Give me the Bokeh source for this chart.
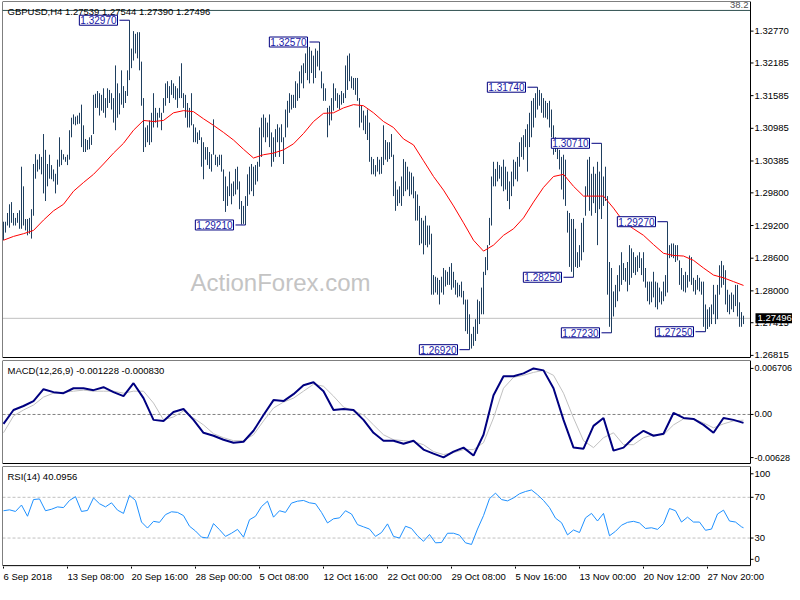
from bokeh.plotting import figure
from bokeh.layouts import column
from bokeh.models import Range1d, FixedTicker, Label, ColumnDataSource
from bokeh.core.properties import value
from bokeh.embed import file_html
from bokeh.resources import INLINE

# ---------------- data ----------------
symbol = "GBPUSD,H4"
last_open = 1.27539
last_close = 1.27496
fib_level = 1.3315
fib_text = "38.2"

highs = [
    1.2927, 1.2927, 1.2943, 1.2959, 1.2963, 1.2943, 1.2934, 1.2943, 1.2948, 1.3028,
    1.2992, 1.2932, 1.2932, 1.2934, 1.2950, 1.3033, 1.3051, 1.3041, 1.3051, 1.3046,
    1.3088, 1.3059, 1.3033, 1.3050, 1.3031, 1.3023, 1.3015, 1.3041, 1.3082, 1.3059,
    1.3051, 1.3046, 1.3050, 1.3095, 1.3118, 1.3124, 1.3120, 1.3122, 1.3127, 1.3142,
    1.3104, 1.3079, 1.3077, 1.3082, 1.3086, 1.3160, 1.3162, 1.3167, 1.3163, 1.3160,
    1.3172, 1.3154, 1.3172, 1.3169, 1.3163, 1.3154, 1.3214, 1.3181, 1.3163, 1.3205,
    1.3176, 1.3167, 1.3205, 1.3297, 1.3245, 1.3277, 1.3272, 1.3275, 1.3275, 1.3221,
    1.3154, 1.3100, 1.3104, 1.3113, 1.3127, 1.3163, 1.3136, 1.3127, 1.3136, 1.3127,
    1.3154, 1.3181, 1.3185, 1.3176, 1.3187, 1.3181, 1.3176, 1.3172, 1.3194, 1.3218,
    1.3163, 1.3160, 1.3145, 1.3136, 1.3163, 1.3106, 1.3100, 1.3091, 1.3095, 1.3082,
    1.3073, 1.3064, 1.3064, 1.3055, 1.3051, 1.3115, 1.3050, 1.3046, 1.3050, 1.3050,
    1.3023, 1.3010, 1.2992, 1.3019, 1.2997, 1.3001, 1.3024, 1.3028, 1.3001, 1.2965,
    1.2956, 1.2974, 1.3014, 1.3028, 1.3033, 1.3028, 1.3031, 1.3037, 1.3100, 1.3118,
    1.3124, 1.3118, 1.3109, 1.3124, 1.3091, 1.3082, 1.3097, 1.3106, 1.3100, 1.3106,
    1.3082, 1.3133, 1.3149, 1.3163, 1.3160, 1.3160, 1.3185, 1.3181, 1.3203, 1.3214,
    1.3218, 1.3236, 1.3250, 1.3248, 1.3241, 1.3232, 1.3245, 1.3241, 1.3257, 1.3203,
    1.3181, 1.3172, 1.3136, 1.3140, 1.3154, 1.3181, 1.3172, 1.3163, 1.3160, 1.3167,
    1.3163, 1.3214, 1.3232, 1.3236, 1.3194, 1.3191, 1.3191, 1.3191, 1.3154, 1.3140,
    1.3131, 1.3122, 1.3133, 1.3109, 1.3046, 1.3042, 1.3031, 1.3046, 1.3041, 1.3046,
    1.3104, 1.3077, 1.3073, 1.3073, 1.3088, 1.3050, 1.3001, 1.2986, 1.2992, 1.3010,
    1.3042, 1.3037, 1.3028, 1.3019, 1.3017, 1.3010, 1.2983, 1.2977, 1.2956, 1.2934,
    1.2929, 1.2938, 1.2920, 1.2920, 1.2905, 1.2829, 1.2826, 1.2824, 1.2820, 1.2826,
    1.2842, 1.2838, 1.2835, 1.2844, 1.2851, 1.2835, 1.2820, 1.2815, 1.2811, 1.2817,
    1.2800, 1.2784, 1.2784, 1.2757, 1.2721, 1.2734, 1.2748, 1.2784, 1.2781, 1.2806,
    1.2835, 1.2862, 1.2884, 1.2934, 1.3010, 1.3037, 1.3024, 1.3037, 1.3031, 1.3028,
    1.3041, 1.3028, 1.3019, 1.3001, 1.3019, 1.3041, 1.3037, 1.3046, 1.3073, 1.3082,
    1.3086, 1.3097, 1.3106, 1.3127, 1.3149, 1.3154, 1.3163, 1.3174, 1.3169, 1.3163,
    1.3154, 1.3149, 1.3145, 1.3149, 1.3133, 1.3104, 1.3082, 1.3070, 1.3059, 1.3046,
    1.3050, 1.3041, 1.2947, 1.2943, 1.2932, 1.2932, 1.2914, 1.2871, 1.2884, 1.2925,
    1.2934, 1.2992, 1.3041, 1.3046, 1.3015, 1.3028, 1.3015, 1.3037, 1.3019, 1.3071,
    1.3010, 1.3028, 1.2974, 1.2853, 1.2842, 1.2799, 1.2811, 1.2829, 1.2847, 1.2871,
    1.2851, 1.2842, 1.2853, 1.2884, 1.2878, 1.2871, 1.2862, 1.2865, 1.2871, 1.2860,
    1.2871, 1.2842, 1.2817, 1.2817, 1.2817, 1.2835, 1.2817, 1.2815, 1.2806, 1.2799,
    1.2817, 1.2829, 1.2927, 1.2884, 1.2887, 1.2887, 1.2884, 1.2884, 1.2856, 1.2842,
    1.2829, 1.2835, 1.2829, 1.2865, 1.2862, 1.2824, 1.2820, 1.2829, 1.2824, 1.2817,
    1.2817, 1.2775, 1.2766, 1.2770, 1.2775, 1.2811, 1.2793, 1.2811, 1.2847, 1.2855,
    1.2847, 1.2838, 1.2802, 1.2793, 1.2797, 1.2793, 1.2811, 1.2811, 1.2779, 1.2761,
    1.27544,
]

lows = [
    1.2893, 1.2907, 1.2920, 1.2916, 1.2925, 1.2920, 1.2920, 1.2925, 1.2914, 1.2914,
    1.2920, 1.2911, 1.2902, 1.2905, 1.2896, 1.2938, 1.3006, 1.3019, 1.3023, 1.3014,
    1.2979, 1.2965, 1.2992, 1.3006, 1.3005, 1.3001, 1.2979, 1.2995, 1.3028, 1.3031,
    1.3041, 1.3037, 1.3031, 1.3041, 1.3082, 1.3106, 1.3104, 1.3106, 1.3107, 1.3064,
    1.3055, 1.3055, 1.3059, 1.3060, 1.3068, 1.3088, 1.3136, 1.3136, 1.3122, 1.3131,
    1.3127, 1.3118, 1.3136, 1.3145, 1.3133, 1.3109, 1.3095, 1.3118, 1.3124, 1.3142,
    1.3136, 1.3145, 1.3158, 1.3187, 1.3209, 1.3223, 1.3236, 1.3227, 1.3205, 1.3140,
    1.3055, 1.3064, 1.3073, 1.3068, 1.3073, 1.3100, 1.3109, 1.3100, 1.3118, 1.3095,
    1.3127, 1.3140, 1.3154, 1.3145, 1.3160, 1.3154, 1.3151, 1.3136, 1.3154, 1.3154,
    1.3136, 1.3118, 1.3100, 1.3100, 1.3104, 1.3073, 1.3073, 1.3070, 1.3077, 1.3028,
    1.3005, 1.3041, 1.3031, 1.3024, 1.3019, 1.3050, 1.3031, 1.3028, 1.3031, 1.3019,
    1.2965, 1.2945, 1.2956, 1.2974, 1.2959, 1.2974, 1.2977, 1.2986, 1.2950, 1.2922,
    1.2923, 1.2921, 1.2956, 1.2977, 1.2983, 1.2974, 1.2995, 1.3001, 1.3028, 1.3046,
    1.3082, 1.3073, 1.3082, 1.3064, 1.3028, 1.3037, 1.3046, 1.3073, 1.3046, 1.3073,
    1.3033, 1.3082, 1.3100, 1.3127, 1.3133, 1.3136, 1.3136, 1.3149, 1.3154, 1.3181,
    1.3172, 1.3200, 1.3187, 1.3181, 1.3200, 1.3181, 1.3191, 1.3212, 1.3205, 1.3172,
    1.3149, 1.3149, 1.3082, 1.3104, 1.3113, 1.3131, 1.3149, 1.3136, 1.3133, 1.3142,
    1.3145, 1.3154, 1.3169, 1.3185, 1.3172, 1.3169, 1.3160, 1.3149, 1.3100, 1.3109,
    1.3095, 1.3088, 1.3077, 1.3037, 1.3014, 1.3014, 1.3010, 1.3019, 1.3014, 1.3015,
    1.3031, 1.3041, 1.3037, 1.3042, 1.3046, 1.2974, 1.2947, 1.2956, 1.2961, 1.2956,
    1.2974, 1.2983, 1.2986, 1.2974, 1.2977, 1.2970, 1.2929, 1.2929, 1.2884, 1.2887,
    1.2867, 1.2884, 1.2880, 1.2885, 1.2793, 1.2793, 1.2797, 1.2793, 1.2775, 1.2797,
    1.2793, 1.2808, 1.2811, 1.2811, 1.2802, 1.2806, 1.2793, 1.2788, 1.2790, 1.2788,
    1.2775, 1.2726, 1.2721, 1.2692, 1.2694, 1.2699, 1.2708, 1.2721, 1.2739, 1.2757,
    1.2757, 1.2829, 1.2838, 1.2884, 1.2920, 1.2992, 1.2992, 1.3001, 1.3006, 1.2992,
    1.2983, 1.2986, 1.2965, 1.2950, 1.2974, 1.2992, 1.3005, 1.3001, 1.3028, 1.3046,
    1.3041, 1.3064, 1.3019, 1.3064, 1.3082, 1.3100, 1.3118, 1.3133, 1.3140, 1.3127,
    1.3118, 1.3118, 1.3115, 1.3100, 1.3082, 1.3050, 1.3055, 1.3042, 1.3023, 1.2986,
    1.2968, 1.2956, 1.2907, 1.2844, 1.2835, 1.2825, 1.2844, 1.2842, 1.2844, 1.2856,
    1.2871, 1.2938, 1.2974, 1.2947, 1.2938, 1.2961, 1.2943, 1.2884, 1.2950, 1.2932,
    1.2956, 1.2965, 1.2793, 1.2734, 1.2723, 1.2753, 1.2770, 1.2781, 1.2799, 1.2811,
    1.2820, 1.2817, 1.2799, 1.2811, 1.2824, 1.2833, 1.2829, 1.2835, 1.2842, 1.2829,
    1.2817, 1.2806, 1.2781, 1.2775, 1.2779, 1.2788, 1.2770, 1.2766, 1.2779, 1.2775,
    1.2781, 1.2790, 1.2797, 1.2860, 1.2862, 1.2860, 1.2853, 1.2856, 1.2811, 1.2802,
    1.2799, 1.2797, 1.2806, 1.2817, 1.2811, 1.2799, 1.2793, 1.2802, 1.2799, 1.2793,
    1.2734, 1.2725, 1.2730, 1.2734, 1.2739, 1.2757, 1.2739, 1.2748, 1.2793, 1.2806,
    1.2811, 1.2775, 1.2761, 1.2757, 1.2766, 1.2761, 1.2772, 1.2753, 1.2734, 1.2734,
    1.27390,
]

# moving average (red), sampled every 5 bars
ma_step = 5
ma_values = [
    1.2893, 1.2900, 1.2905, 1.2911, 1.2930, 1.2947, 1.2959, 1.2983, 1.2999, 1.3014,
    1.3033, 1.3053, 1.3071, 1.3095, 1.3113, 1.3111, 1.3113, 1.3127, 1.3131, 1.3129,
    1.3116, 1.3104, 1.3091, 1.3077, 1.3060, 1.3044, 1.3050, 1.3053, 1.3059, 1.3070,
    1.3089, 1.3111, 1.3126, 1.3127, 1.3136, 1.3142, 1.3140, 1.3127, 1.3111, 1.3100,
    1.3079, 1.3068, 1.3039, 1.3010, 1.2985, 1.2956, 1.2925, 1.2893, 1.2873, 1.2884,
    1.2902, 1.2914, 1.2934, 1.2963, 1.2990, 1.3010, 1.3014, 1.2992, 1.2974, 1.2974,
    1.2974, 1.2952, 1.2927, 1.2914, 1.2902, 1.2885, 1.2869, 1.2865, 1.2864, 1.2856,
    1.2842, 1.2829, 1.2824, 1.2817, 1.2810,
]

# MACD(12,26,9), sampled every 5 bars
macd_step = 5
macd_main = [
    -0.00137, 0.00065, 0.00123, 0.00195, 0.00368, 0.00325, 0.00310, 0.00382, 0.00382, 0.00354,
    0.00397, 0.00325, 0.00267, 0.00455, 0.00238, -0.00079, -0.00094, 0.00036, 0.00079, -0.00079,
    -0.00267, -0.00310, -0.00368, -0.00411, -0.00397, -0.00238, -0.00007, 0.00209, 0.00195, 0.00296,
    0.00426, 0.00469, 0.00339, 0.00065, 0.00079, 0.00065, -0.00079, -0.00267, -0.00382, -0.00382,
    -0.00426, -0.00382, -0.00512, -0.00570, -0.00625, -0.00541, -0.00483, -0.00599, -0.00296, 0.00281,
    0.00556, 0.00556, 0.00599, 0.00670, 0.00642, 0.00382, -0.00079, -0.00483, -0.00498, -0.00166,
    -0.00051, -0.00527, -0.00483, -0.00339, -0.00238, -0.00310, -0.00281, 0.00022, -0.00051, -0.00065,
    -0.00152, -0.00267, -0.00051, -0.00079, -0.001228,
]
macd_signal = [
    -0.00267, -0.00022, 0.00065, 0.00137, 0.00253, 0.00310, 0.00325, 0.00339, 0.00354, 0.00339,
    0.00339, 0.00339, 0.00310, 0.00339, 0.00339, 0.00166, -0.00079, -0.00036, 0.00051, -0.00051,
    -0.00152, -0.00281, -0.00339, -0.00382, -0.00382, -0.00296, -0.00094, 0.00094, 0.00180, 0.00238,
    0.00339, 0.00440, 0.00411, 0.00267, 0.00108, 0.00051, -0.00007, -0.00152, -0.00296, -0.00368,
    -0.00382, -0.00397, -0.00440, -0.00541, -0.00584, -0.00556, -0.00512, -0.00512, -0.00411, -0.00051,
    0.00382, 0.00541, 0.00570, 0.00613, 0.00642, 0.00570, 0.00310, -0.00051, -0.00382, -0.00483,
    -0.00339, -0.00267, -0.00440, -0.00440, -0.00339, -0.00296, -0.00296, -0.00152, -0.00065, -0.00065,
    -0.00123, -0.00195, -0.00137, -0.00094, -0.000830,
]

# RSI(14), sampled every 3 bars, then the last bar
rsi_step = 3
rsi_values = [
    56.8, 57.7, 56.1, 62.4, 51.4, 67.8, 68.4, 56.8, 58.3, 60.6,
    59.9, 66.9, 70.6, 56.1, 57.1, 69.4, 63.7, 60.6, 64.6, 57.4,
    54.2, 71.9, 66.9, 45.7, 39.8, 46.4, 45.4, 53.0, 55.8, 55.2,
    52.0, 41.6, 36.9, 30.9, 30.0, 44.2, 38.2, 31.6, 34.7, 38.5,
    30.9, 48.0, 51.4, 60.9, 66.2, 50.5, 56.8, 55.2, 64.3, 66.2,
    66.9, 64.6, 63.7, 55.2, 44.8, 48.9, 49.8, 56.8, 53.6, 43.2,
    41.0, 38.8, 31.6, 35.4, 43.9, 31.6, 30.0, 41.6, 39.4, 32.2,
    26.8, 33.5, 25.3, 25.6, 34.7, 34.7, 32.8, 25.3, 23.7, 38.8,
    52.0, 68.7, 74.1, 67.8, 66.5, 69.4, 73.5, 75.7, 77.2, 72.5,
    66.9, 59.9, 49.5, 45.1, 33.1, 37.9, 35.4, 49.8, 54.2, 46.7,
    54.2, 32.2, 36.6, 42.6, 45.4, 46.4, 44.8, 39.4, 40.1, 38.5,
    44.2, 59.0, 56.8, 45.7, 50.5, 45.7, 45.7, 37.6, 38.8, 53.6,
    57.4, 46.7, 45.7, 41.0,
]
rsi_last = 40.0956

# swing points marked with boxes: (bar index, which end)
swings = [(63, "high"), (121, "low"), (158, "high"), (233, "low"), (267, "high"),
          (285, "low"), (299, "high"), (304, "low"), (332, "high"), (351, "low")]

price_ticks = [1.32770, 1.32185, 1.31585, 1.30985, 1.30385, 1.29800,
               1.29200, 1.28600, 1.28000, 1.27415, 1.26815]
macd_ticks = [0.006706, 0.0, -0.00628]
macd_tick_labels = ["0.006706", "0.00", "-0.00628"]
rsi_levels = [100, 70, 30, 0]
date_ticks = [0, 32, 64, 96, 128, 160, 192, 224, 256, 288, 320, 352]
date_labels = ["6 Sep 2018", "13 Sep 08:00", "20 Sep 16:00", "28 Sep 00:00", "5 Oct 08:00",
               "12 Oct 16:00", "22 Oct 00:00", "29 Oct 08:00", "5 Nov 16:00", "13 Nov 00:00",
               "20 Nov 12:00", "27 Nov 20:00"]

# ---------------- styles / layout ----------------
FONT = "Liberation Sans"
FS = "9.5px"
BAR_COLOR = "#1f3f5f"
BOX_BORDER = "#000080"
BOX_TEXT = "#1a1aa8"

FIG_W = 792
LEFT = 2                      # frame left edge (px)
PX = 2.0                      # pixels per bar
X0 = -0.5
x_range = Range1d(X0, X0 + (FIG_W - LEFT) / PX)
AXIS_PX = 750                 # price-scale line position (px)
AX = X0 + (AXIS_PX - LEFT) / PX

MAIN_H, MACD_H, RSI_H = 357, 104, 103      # data rows of each panel
TICK_ROWS = 4                               # room under the RSI panel for date ticks
DATE_H = 11                                 # date label strip

main_range = Range1d(1.26758, 1.33314)
macd_range = Range1d(-0.00729, 0.00786)
RSI_TOP, RSI_BOT = 100.26, 1.93
d3 = (RSI_TOP - RSI_BOT) / RSI_H
rsi_range = Range1d(RSI_BOT - TICK_ROWS * d3, RSI_TOP)

CHAR_W = {" ": 0.278, ":": 0.278, "S": 0.667, "O": 0.778, "N": 0.722, "e": 0.556,
          "p": 0.556, "c": 0.5, "t": 0.278, "o": 0.556, "v": 0.5}


def text_width(s, size_px):
    return sum(CHAR_W.get(ch, 0.556) for ch in s) * size_px


def make_fig(height, y_range, top, bottom, xloc=None):
    p = figure(width=FIG_W, height=height, x_range=x_range, y_range=y_range,
               output_backend="svg", toolbar_location=None, x_axis_location=xloc,
               y_axis_location=None, min_border_left=LEFT, min_border_right=0,
               min_border_top=top, min_border_bottom=bottom)
    p.xgrid.visible = False
    p.ygrid.visible = False
    p.outline_line_color = None
    p.background_fill_color = "white"
    p.border_fill_color = "white"
    return p


def frame_and_scale(p, top, d, rows, tick_pos, labels, fs):
    bot = top - (rows - 1) * d
    p.segment(x0=[X0, X0, X0, AX], y0=[top, bot, bot, bot],
              x1=[AX, AX, X0, AX], y1=[top, bot, top, top], line_color="black", line_width=1)
    n = len(tick_pos)
    p.segment(x0=[AX] * n, y0=tick_pos, x1=[AX + 3 / PX] * n, y1=tick_pos,
              line_color="black", line_width=1)
    p.text(x=[AX + 4 / PX] * n, y=tick_pos, text=labels, text_font=value(FONT),
           text_font_size=value(fs), text_color="black", text_align="left",
           text_baseline="middle")
    return bot


def hline(p, y, color, dash="solid"):
    p.segment(x0=[X0], y0=[y], x1=[AX], y1=[y], line_color=color, line_width=1, line_dash=dash)


def text_label(p, x, y, text, size=FS, color="black", align="left", baseline="top", **kw):
    p.add_layout(Label(x=x, y=y, text=text, text_font=FONT, text_font_size=size,
                       text_color=color, text_align=align, text_baseline=baseline, **kw))


def xpx(px):
    return X0 + (px - LEFT) / PX


# ---------------- main price panel ----------------
p1 = make_fig(1 + MAIN_H + 2, main_range, 1, 2)
d1 = (main_range.end - main_range.start) / MAIN_H

hline(p1, fib_level, "#2f4f4f")
hline(p1, last_close, "#c0c0c0")

text_label(p1, xpx(280), main_range.end - 281 * d1, "ActionForex.com", size="24px",
           color="#c4c4c4", align="center", baseline="middle")

bar_x = list(range(len(highs)))
src = ColumnDataSource(dict(x=bar_x, high=highs, low=lows))
p1.segment(x0="x", y0="low", x1="x", y1="high", source=src, line_color=BAR_COLOR, line_width=1)

ma_x = [ma_step * k for k in range(len(ma_values))]
p1.line(ma_x, ma_values, line_color="#ff0000", line_width=1)

frame_and_scale(p1, main_range.end, d1, MAIN_H, price_ticks,
                ["%.5f" % t for t in price_ticks], FS)

text_label(p1, xpx(748), main_range.end - 0.5 * d1, fib_text, color="#505050", align="right")
title = "%s  %.5f %.5f %.5f %.5f" % (symbol, last_open, highs[-1], lows[-1], last_close)
text_label(p1, xpx(7), main_range.end - 4 * d1, title)

for i, kind in swings:
    v = highs[i] if kind == "high" else lows[i]
    p1.segment(x0=[i - 5], y0=[v], x1=[i], y1=[v], line_color=BOX_BORDER, line_width=1)
    p1.add_layout(Label(x=i - 5, y=v, text="%.5f" % v, text_font=FONT, text_font_size="10px",
                        text_color=BOX_TEXT, text_align="right", text_baseline="middle",
                        x_offset=-2, background_fill_color="white",
                        border_line_color=BOX_BORDER, border_line_width=1, padding=1))

p1.add_layout(Label(x=AX, y=last_close, text="%.5f" % last_close, text_font=FONT,
                    text_font_size=FS, text_color="white", text_align="left",
                    text_baseline="middle", x_offset=5, background_fill_color="black",
                    padding=2))

# ---------------- MACD panel ----------------
p2 = make_fig(MACD_H + 2, macd_range, 0, 2)
d2 = (macd_range.end - macd_range.start) / MACD_H
hline(p2, 0.0, "#808080", "3 2")
macd_x = [macd_step * k for k in range(len(macd_main))]
p2.line(macd_x, macd_signal, line_color="#c0c0c0", line_width=1)
p2.line(macd_x, macd_main, line_color="#000080", line_width=2)
frame_and_scale(p2, macd_range.end, d2, MACD_H, macd_ticks, macd_tick_labels, "9px")
text_label(p2, xpx(7), macd_range.end - 4 * d2,
           "MACD(12,26,9) %.6f %.6f" % (macd_main[-1], macd_signal[-1]))

# ---------------- RSI panel ----------------
p3 = make_fig(RSI_H + TICK_ROWS + DATE_H, rsi_range, 0, DATE_H, xloc="below")
INSET = 7.5 * d3
for lv in rsi_levels[1:3]:
    hline(p3, lv, "#c0c0c0", "3 2")
rsi_x = [rsi_step * k for k in range(len(rsi_values))] + [len(highs) - 1]
p3.line(rsi_x, rsi_values + [rsi_last], line_color="#1e90ff", line_width=1)
rsi_tick_pos = [min(max(v, RSI_BOT + INSET), RSI_TOP - INSET) for v in rsi_levels]
rsi_floor = frame_and_scale(p3, RSI_TOP, d3, RSI_H, rsi_tick_pos,
                            [str(v) for v in rsi_levels], FS)
text_label(p3, xpx(7), RSI_TOP - 5 * d3, "RSI(14) %.4f" % rsi_last)

# date tick marks under the panel border
nt = len(date_ticks)
p3.segment(x0=date_ticks, y0=[rsi_floor - d3] * nt, x1=date_ticks, y1=[rsi_floor - 3 * d3] * nt,
           line_color="black", line_width=1)

# date labels, left-aligned at their ticks
label_pos = [t + text_width(s, 9.5) / 2 / PX for t, s in zip(date_ticks, date_labels)]
xa = p3.xaxis[0]
xa.ticker = FixedTicker(ticks=label_pos)
xa.major_label_overrides = dict(zip(label_pos, date_labels))
xa.major_label_text_font = FONT
xa.major_label_text_font_size = FS
xa.major_label_text_color = "black"
xa.major_label_standoff = 0
xa.major_tick_in = 0
xa.major_tick_out = 0
xa.major_tick_line_color = None
xa.minor_tick_line_color = None
xa.axis_line_color = None

layout = column(p1, p2, p3, spacing=0)
open("out.html", "w").write(file_html(layout, INLINE))
